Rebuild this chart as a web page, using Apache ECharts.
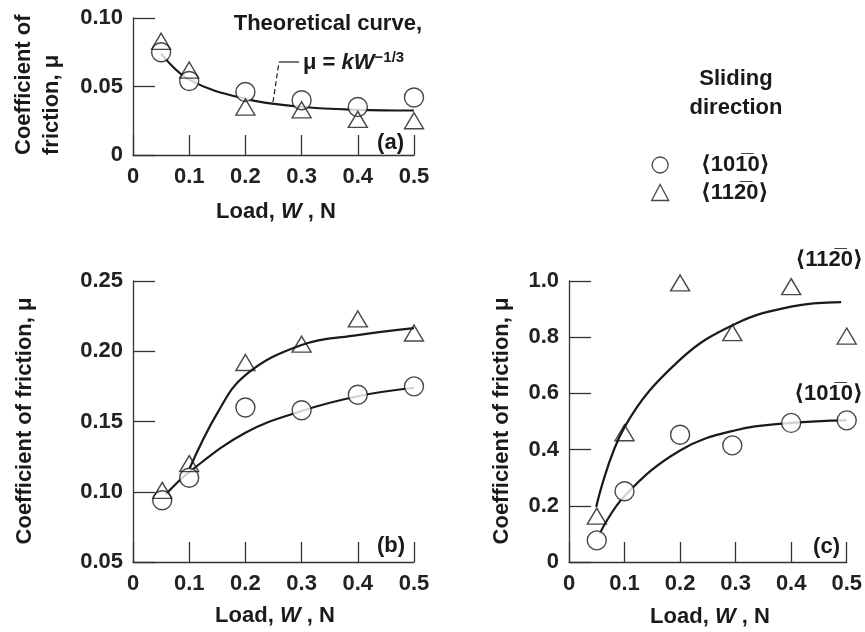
<!DOCTYPE html>
<html>
<head>
<meta charset="utf-8">
<script src="https://cdn.jsdelivr.net/npm/echarts@6/dist/echarts.min.js"></script>
<style>html,body{margin:0;padding:0;background:#fff}#c{width:865px;height:632px}</style>
</head>
<body>
<div id="c"></div>
<script>
// ---- data ----
const dirA = '\u27E810' + '1\u0305' + '0\u27E9';   // <10-10>
const dirB = '\u27E811' + '2\u0305' + '0\u27E9';   // <11-20>

const xTicks = [0, 0.1, 0.2, 0.3, 0.4, 0.5];

// panel (a)
const aLoads = [0.05, 0.1, 0.2, 0.3, 0.4, 0.5];
const aCircle = [0.075, 0.054, 0.046, 0.040, 0.035, 0.042];
const aTriangle = [0.083, 0.062, 0.035, 0.033, 0.026, 0.025];
const aCurveX = [0.05, 0.1, 0.2, 0.3, 0.4, 0.5];
const aCurveY = [0.074, 0.055, 0.041, 0.0352, 0.033, 0.0325];

// panel (b)
const bLoads = [0.052, 0.1, 0.2, 0.3, 0.4, 0.5];
const bCircle = [0.094, 0.110, 0.160, 0.158, 0.169, 0.175];
const bTriangle = [0.101, 0.120, 0.192, 0.205, 0.223, 0.213];
const bUpperX = [0.1, 0.15, 0.2, 0.3, 0.4, 0.5];
const bUpperY = [0.116, 0.156, 0.183, 0.2045, 0.2115, 0.2165];
const bLowerX = [0.058, 0.1, 0.2, 0.3, 0.4, 0.5];
const bLowerY = [0.098, 0.114, 0.142, 0.1575, 0.168, 0.174];

// panel (c)
const cLoads = [0.05, 0.1, 0.2, 0.294, 0.4, 0.5];
const cCircle = [0.077, 0.252, 0.453, 0.415, 0.495, 0.504];
const cTriangle = [0.163, 0.460, 0.993, 0.816, 0.980, 0.804];
const cUpperX = [0.049, 0.1, 0.2, 0.3, 0.4, 0.49];
const cUpperY = [0.196, 0.48, 0.72, 0.848, 0.909, 0.925];
const cLowerX = [0.055, 0.1, 0.2, 0.3, 0.4, 0.5];
const cLowerY = [0.10, 0.235, 0.397, 0.469, 0.495, 0.504];

// ---- styling ----
const FF = "'Liberation Sans', 'DejaVu Sans', Arial, sans-serif";
const INK = '#1a1a1a';
const AX = '#333';
const zip = (xs, ys) => xs.map((x, i) => [x, ys[i]]);

function xAx(gi) {
  return {
    type: 'value', gridIndex: gi, min: 0, max: 0.5, interval: 0.1,
    axisLine: {show: true, onZero: false, lineStyle: {color: AX, width: 1.3}},
    axisTick: {show: true, inside: true, length: 20, lineStyle: {color: AX, width: 1.3}},
    axisLabel: {margin: 11, fontSize: 22, fontWeight: 'bold', fontFamily: FF, color: '#222',
      formatter: v => (v === 0 ? '0' : v.toFixed(1))},
    splitLine: {show: false}
  };
}
function yAx(gi, min, max, interval, dec) {
  return {
    type: 'value', gridIndex: gi, min: min, max: max, interval: interval,
    axisLine: {show: true, onZero: false, lineStyle: {color: AX, width: 1.3}},
    axisTick: {show: true, inside: true, length: 22, lineStyle: {color: AX, width: 1.3}},
    axisLabel: {margin: 10, fontSize: 22, fontWeight: 'bold', fontFamily: FF, color: '#222',
      formatter: v => (Math.abs(v) < 1e-9 ? '0' : v.toFixed(dec))},
    splitLine: {show: false}
  };
}
const circleStyle = {color: '#fff', borderColor: INK, borderWidth: 1.4};
const triStyle = {color: 'rgba(255,255,255,0)', borderColor: INK, borderWidth: 1.4};

function circles(idx, xs, ys) {
  return {type: 'scatter', name: dirA, xAxisIndex: idx, yAxisIndex: idx, data: zip(xs, ys),
    symbol: 'circle', symbolSize: 19, itemStyle: circleStyle, z: 4, silent: true};
}
function triangles(idx, xs, ys) {
  return {type: 'scatter', name: dirB, xAxisIndex: idx, yAxisIndex: idx, data: zip(xs, ys),
    symbol: 'triangle', symbolSize: [19, 16], itemStyle: triStyle, z: 5, silent: true};
}
function curve(idx, xs, ys, name) {
  return {type: 'line', name: name, xAxisIndex: idx, yAxisIndex: idx, data: zip(xs, ys),
    showSymbol: false, smooth: 0.4,
    lineStyle: {color: INK, width: 2.2}, z: 3, silent: true};
}

const txt = (x, y, text, extra) => ({
  type: 'text', x: x, y: y, silent: true,
  style: Object.assign({text: text, fill: '#1a1a1a', font: 'bold 22px ' + FF,
    textAlign: 'left', align: 'left', textVerticalAlign: 'middle', verticalAlign: 'middle'}, extra || {})
});
const loadRich = {
  a: {fontSize: 22, fontWeight: 'bold', fontFamily: FF, fill: '#1a1a1a', color: '#1a1a1a'},
  w: {fontSize: 22, fontWeight: 'bold', fontStyle: 'italic', fontFamily: FF, fill: '#1a1a1a', color: '#1a1a1a'}
};
const loadLabel = (x, y) => txt(x, y, '{a|Load, }{w|W}{a| , N}',
  {textAlign: 'center', align: 'center', rich: loadRich});

const chart = echarts.init(document.getElementById('c'), null, {renderer: 'canvas'});
chart.setOption({
  animation: false,
  backgroundColor: '#fff',
  grid: [
    {left: 133, top: 18, width: 281, height: 137},
    {left: 133, top: 281, width: 281, height: 281},
    {left: 569, top: 281, width: 280, height: 281}
  ],
  xAxis: [xAx(0), xAx(1), xAx(2)],
  yAxis: [yAx(0, 0, 0.1, 0.05, 2), yAx(1, 0.05, 0.25, 0.05, 2), yAx(2, 0, 1, 0.2, 1)],
  legend: {
    orient: 'vertical', left: 646, top: 148, itemWidth: 17, itemHeight: 16, itemGap: 3.5,
    selectedMode: false,
    data: [
      {name: dirA, icon: 'circle', itemStyle: {color: '#fff', borderColor: INK, borderWidth: 1.3}},
      {name: dirB, icon: 'triangle', itemStyle: {color: '#fff', borderColor: INK, borderWidth: 1.3}}
    ],
    textStyle: {fontSize: 22, fontWeight: 'bold', fontFamily: FF, color: '#1a1a1a',
      lineHeight: 24, padding: [0, 0, 0, 27]}
  },
  series: [
    curve(0, aCurveX, aCurveY, 'theory'),
    circles(0, aLoads, aCircle),
    triangles(0, aLoads, aTriangle),
    curve(1, bUpperX, bUpperY, 'b upper'),
    curve(1, bLowerX, bLowerY, 'b lower'),
    circles(1, bLoads, bCircle),
    triangles(1, bLoads, bTriangle),
    curve(2, cUpperX, cUpperY, 'c upper'),
    curve(2, cLowerX, cLowerY, 'c lower'),
    circles(2, cLoads, cCircle),
    triangles(2, cLoads, cTriangle)
  ],
  graphic: [
    // y-axis titles
    txt(24, 155, 'Coefficient of', {}),
    txt(52, 155, 'friction, \u03BC', {}),
    txt(25, 421, 'Coefficient of friction, \u03BC', {textAlign: 'center', align: 'center'}),
    txt(502, 421, 'Coefficient of friction, \u03BC', {textAlign: 'center', align: 'center'}),
    // x-axis titles
    loadLabel(276, 212),
    loadLabel(275, 616),
    loadLabel(710, 617),
    // panel tags
    txt(404, 143, '(a)', {textAlign: 'right', align: 'right'}),
    txt(405, 546, '(b)', {textAlign: 'right', align: 'right'}),
    txt(840, 547, '(c)', {textAlign: 'right', align: 'right'}),
    // theoretical curve annotation
    txt(422, 24, 'Theoretical curve,', {textAlign: 'right', align: 'right'}),
    txt(303, 63, '{m|\u03BC = }{k|kW}{s|\u22121/3}', {rich: {
      m: {fontSize: 22, fontWeight: 'bold', fontFamily: FF, lineHeight: 26},
      k: {fontSize: 22, fontWeight: 'bold', fontStyle: 'italic', fontFamily: FF, lineHeight: 26},
      s: {fontSize: 15, fontWeight: 'bold', fontFamily: FF, lineHeight: 15, verticalAlign: 'top'}
    }}),
    {type: 'polyline', silent: true, shape: {points: [[273, 102], [279, 62]]},
      style: {stroke: INK, lineWidth: 1.2, lineDash: [5, 3], fill: null}},
    {type: 'polyline', silent: true, shape: {points: [[279, 62], [299, 62]]},
      style: {stroke: INK, lineWidth: 1.2, fill: null}},
    // labels in panel (c)
    txt(863, 260, dirB, {textAlign: 'right', align: 'right'}),
    txt(863, 394, dirA, {textAlign: 'right', align: 'right'}),
    // legend heading
    txt(736, 79, 'Sliding', {textAlign: 'center', align: 'center'}),
    txt(736, 108, 'direction', {textAlign: 'center', align: 'center'})
  ].map(function (e, i) {
    if (i < 4 && e.type === 'text') { e.rotation = Math.PI / 2; }
    return e;
  })
});
</script>
</body>
</html>
